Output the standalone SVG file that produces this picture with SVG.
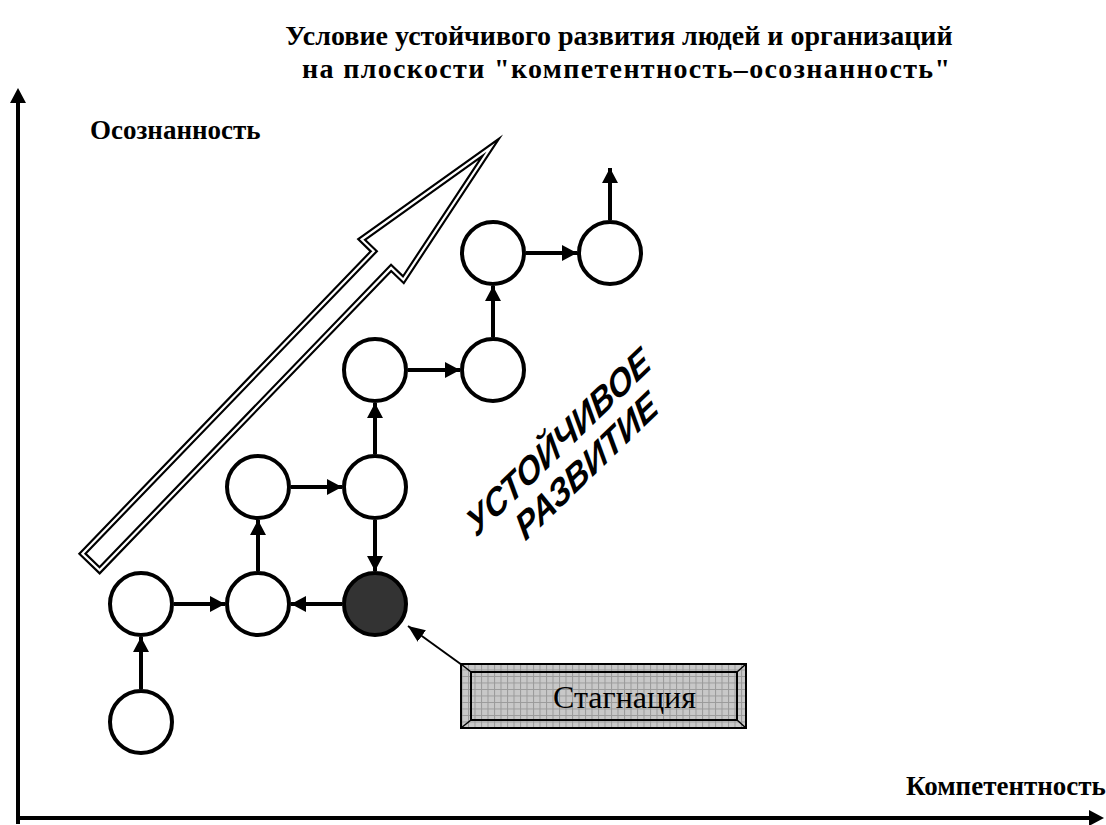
<svg xmlns="http://www.w3.org/2000/svg" width="1106" height="825" viewBox="0 0 1106 825">
  <style>
    .title { font-family: "Liberation Serif", "Times New Roman", serif; font-weight: bold; font-size: 28px; fill: #000; }
    .axis-label { font-family: "Liberation Serif", "Times New Roman", serif; font-weight: bold; font-size: 27px; fill: #000; }
    .node { fill: #fff; stroke: #000; stroke-width: 4; }
    .node.dark { fill: #333; }
    .link { fill: none; stroke: #000; stroke-width: 4; marker-end: url(#head); }
    .axis { fill: none; stroke: #000; stroke-width: 4; }
    .slogan { font-family: "Liberation Sans", Arial, sans-serif; font-weight: bold; font-style: italic; font-size: 35px; fill: #000; }
    .box-text { font-family: "Liberation Serif", "Times New Roman", serif; font-size: 32px; fill: #000; }
  </style>
  <defs>
    <marker id="head" markerUnits="userSpaceOnUse" markerWidth="16" markerHeight="16" refX="15" refY="8" orient="auto">
      <path d="M0,0 L15,8 L0,16 z" fill="#000"/>
    </marker>
    <marker id="thinhead" markerUnits="userSpaceOnUse" markerWidth="18" markerHeight="16" refX="17" refY="7" orient="auto">
      <path d="M0,0 L17,7 L0,14 z" fill="#000"/>
    </marker>
    <pattern id="grid" patternUnits="userSpaceOnUse" width="6.5" height="6.5">
      <rect width="6.5" height="6.5" fill="#c8c8c8"/>
      <path d="M0,0.5 H6.5 M0.5,0 V6.5" stroke="#9a9a9a" stroke-width="1"/>
    </pattern>
  </defs>

  <!-- title -->
  <g id="title">
    <text class="title" x="619" y="45" text-anchor="middle">Условие устойчивого развития людей и организаций</text>
    <text class="title" x="302" y="78" textLength="648" lengthAdjust="spacing">на плоскости "компетентность–осознанность"</text>
  </g>

  <!-- axes -->
  <g id="axes">
    <path class="axis" d="M18,824 V102"/>
    <path d="M10,103 L18,88 L26,103 z" fill="#000"/>
    <path class="axis" d="M16,818 H1090"/>
    <path d="M1089,810 L1104,818 L1089,826 z" fill="#000"/>
    <text class="axis-label" x="90" y="139">Осознанность</text>
    <text class="axis-label" x="906" y="795">Компетентность</text>
  </g>

  <!-- hollow trend arrow, double outline -->
  <g id="trend-arrow">
    <path d="M82.4,553.7 L373.8,251.3 L361.6,239.5 L490.7,147.3 L403.4,279.7 L391.1,267.9 L99.6,570.3 Z" fill="#fff" stroke="#000" stroke-width="6.5" stroke-linejoin="miter" stroke-miterlimit="10"/>
    <path d="M82.4,553.7 L373.8,251.3 L361.6,239.5 L490.7,147.3 L403.4,279.7 L391.1,267.9 L99.6,570.3 Z" fill="none" stroke="#fff" stroke-width="2.2" stroke-linejoin="miter" stroke-miterlimit="10"/>
  </g>

  <!-- connectors between states -->
  <g id="connectors">
    <path class="link" d="M141,689 V637"/>
    <path class="link" d="M174,604 H225"/>
    <path class="link" d="M342,604 H291"/>
    <path class="link" d="M258,571 V520"/>
    <path class="link" d="M291,487 H342"/>
    <path class="link" d="M375,520 V571"/>
    <path class="link" d="M375,454 V403"/>
    <path class="link" d="M408,370 H460"/>
    <path class="link" d="M493,337 V286"/>
    <path class="link" d="M526,253 H577"/>
    <path class="link" d="M610,220 V168"/>
    <path d="M462,665 L408,626" fill="none" stroke="#000" stroke-width="2" marker-end="url(#thinhead)"/>
  </g>

  <!-- states -->
  <g id="n1"><circle class="node" cx="141" cy="722" r="31"/></g>
  <g id="n2"><circle class="node" cx="141" cy="604" r="31"/></g>
  <g id="n3"><circle class="node" cx="258" cy="604" r="31"/></g>
  <g id="n4"><circle class="node dark" cx="375" cy="604" r="31"/></g>
  <g id="n5"><circle class="node" cx="258" cy="487" r="31"/></g>
  <g id="n6"><circle class="node" cx="375" cy="487" r="31"/></g>
  <g id="n7"><circle class="node" cx="375" cy="370" r="31"/></g>
  <g id="n8"><circle class="node" cx="493" cy="370" r="31"/></g>
  <g id="n9"><circle class="node" cx="493" cy="253" r="31"/></g>
  <g id="n10"><circle class="node" cx="610" cy="253" r="31"/></g>

  <!-- slanted caption -->
  <g id="slogan" transform="translate(476,538) rotate(-44) skewX(-14)">
    <text class="slogan" x="0" y="0">УСТОЙЧИВОЕ</text>
    <text class="slogan" x="42" y="37">РАЗВИТИЕ</text>
  </g>

  <!-- stagnation label box with bevel -->
  <g id="stagnation">
    <rect x="461" y="664" width="285" height="64" fill="url(#grid)" stroke="#000" stroke-width="2"/>
    <rect x="471" y="672" width="266" height="48" fill="url(#grid)" stroke="#000" stroke-width="2"/>
    <path d="M461,664 L471,672 M746,664 L737,672 M461,728 L471,720 M746,728 L737,720" stroke="#000" stroke-width="1.5"/>
    <text class="box-text" x="553" y="708">Стагнация</text>
  </g>
</svg>
